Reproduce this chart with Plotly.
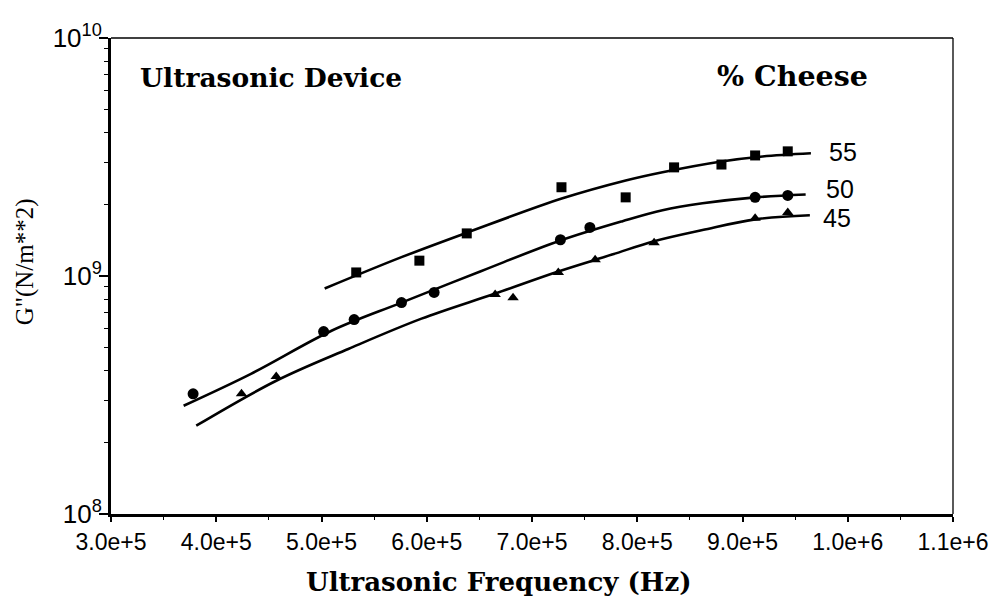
import math
import plotly.graph_objects as go

# ---- data ----
freq_55 = [5.33e5, 5.93e5, 6.38e5, 7.28e5, 7.89e5, 8.35e5, 8.80e5, 9.12e5, 9.43e5]
g_55 = [1.035e9, 1.16e9, 1.51e9, 2.36e9, 2.14e9, 2.86e9, 2.94e9, 3.21e9, 3.34e9]

freq_50 = [3.78e5, 5.02e5, 5.31e5, 5.76e5, 6.07e5, 7.27e5, 7.55e5, 9.12e5, 9.43e5]
g_50 = [3.20e8, 5.84e8, 6.56e8, 7.73e8, 8.53e8, 1.42e9, 1.60e9, 2.14e9, 2.18e9]

freq_45 = [4.24e5, 4.57e5, 6.65e5, 6.82e5, 7.25e5, 7.60e5, 8.16e5, 9.12e5, 9.43e5]
g_45 = [3.20e8, 3.78e8, 8.36e8, 8.11e8, 1.035e9, 1.17e9, 1.38e9, 1.75e9, 1.85e9]

# fitted curves
fit_f_55 = [5.03e5, 5.76e5, 6.38e5, 7.29e5, 7.89e5, 8.24e5, 8.80e5, 9.19e5, 9.65e5]
fit_g_55 = [8.86e8, 1.20e9, 1.52e9, 2.12e9, 2.52e9, 2.73e9, 3.03e9, 3.18e9, 3.28e9]

fit_f_50 = [3.69e5, 4.33e5, 5.10e5, 5.76e5, 6.52e5, 7.27e5, 7.86e5, 8.24e5, 8.62e5, 9.12e5, 9.60e5]
fit_g_50 = [2.85e8, 3.88e8, 5.90e8, 7.73e8, 1.05e9, 1.41e9, 1.70e9, 1.89e9, 2.02e9, 2.14e9, 2.20e9]

fit_f_45 = [3.81e5, 4.57e5, 5.26e5, 5.95e5, 6.65e5, 7.25e5, 7.76e5, 8.16e5, 8.62e5, 9.12e5, 9.64e5]
fit_g_45 = [2.35e8, 3.63e8, 4.95e8, 6.62e8, 8.44e8, 1.045e9, 1.23e9, 1.40e9, 1.56e9, 1.73e9, 1.80e9]

series_labels = ["55", "50", "45"]
label_f = [9.80e5, 9.77e5, 9.75e5]
label_g = [3.31e9, 2.33e9, 1.76e9]

x_tickvals = [3e5, 4e5, 5e5, 6e5, 7e5, 8e5, 9e5, 1.0e6, 1.1e6]
x_ticktext = ["3.0e+5", "4.0e+5", "5.0e+5", "6.0e+5", "7.0e+5", "8.0e+5", "9.0e+5", "1.0e+6", "1.1e+6"]
y_tickvals = [1e8, 1e9, 1e10]
y_exponents = ["8", "9", "10"]

SERIF = "DejaVu Serif"
TSERIF = "Liberation Serif"
SANS = "Liberation Sans"

fig = go.Figure()

for ff, gg in [(fit_f_55, fit_g_55), (fit_f_50, fit_g_50), (fit_f_45, fit_g_45)]:
    fig.add_trace(go.Scatter(x=ff, y=gg, mode="lines", line=dict(color="black", width=2.6, shape="spline"),
                             showlegend=False, hoverinfo="skip"))

fig.add_trace(go.Scatter(x=freq_55, y=g_55, mode="markers",
                         marker=dict(symbol="square", size=10, color="black"), showlegend=False))
fig.add_trace(go.Scatter(x=freq_50, y=g_50, mode="markers",
                         marker=dict(symbol="circle", size=11, color="black"), showlegend=False))
fig.add_trace(go.Scatter(x=freq_45, y=g_45, mode="markers",
                         marker=dict(symbol="triangle-up", size=10, color="black"), showlegend=False))

annotations = []
for lab, lf, lg in zip(series_labels, label_f, label_g):
    # annotations on a log axis take log10 positions
    annotations.append(dict(x=lf, y=math.log10(lg), xref="x", yref="y", text=lab, showarrow=False,
                            xanchor="left", yanchor="middle",
                            font=dict(family=SANS, size=25, color="black")))
annotations.append(dict(x=0.032, y=0.916, xref="paper", yref="paper", text="<b>Ultrasonic Device</b>",
                        showarrow=False, xanchor="left", yanchor="middle",
                        font=dict(family=SERIF, size=26.5, color="black")))
annotations.append(dict(x=0.809, y=0.92, xref="paper", yref="paper", text="<b>% Cheese</b>",
                        showarrow=False, xanchor="center", yanchor="middle",
                        font=dict(family=SERIF, size=28.5, color="black")))
annotations.append(dict(x=0.46, y=-0.143, xref="paper", yref="paper",
                        text="<b>Ultrasonic Frequency (Hz)</b>",
                        showarrow=False, xanchor="center", yanchor="middle",
                        font=dict(family=SERIF, size=26, color="black")))
annotations.append(dict(x=-0.102, y=0.529, xref="paper", yref="paper",
                        text='G"(N/m**2)', textangle=-90,
                        showarrow=False, xanchor="center", yanchor="middle",
                        font=dict(family=TSERIF, size=25, color="black")))

y_ticktext = ["10<sup>%s</sup>" % e for e in y_exponents]

fig.update_layout(
    width=989, height=600,
    margin=dict(l=111, r=36, t=38, b=86),
    paper_bgcolor="white", plot_bgcolor="white",
    annotations=annotations,
    shapes=[
        dict(type="line", xref="paper", yref="paper", x0=0, x1=1, y0=1, y1=1,
             line=dict(color="black", width=1.3)),
        dict(type="line", xref="paper", yref="paper", x0=1, x1=1, y0=0, y1=1,
             line=dict(color="black", width=1.3)),
    ],
    xaxis=dict(
        range=[3e5, 1.1e6], tickvals=x_tickvals, ticktext=x_ticktext,
        showgrid=False, zeroline=False, showline=True, linecolor="black", linewidth=3,
        ticks="outside", ticklen=5, tickcolor="black", tickwidth=1.5,
        minor=dict(dtick=5e4, ticks="outside", ticklen=3, tickcolor="black", tickwidth=1),
        tickfont=dict(family=SANS, size=23, color="black"),
        automargin=False,
    ),
    yaxis=dict(
        type="log", range=[8, 10], tickvals=y_tickvals, ticktext=y_ticktext,
        showgrid=False, zeroline=False, showline=True, linecolor="black", linewidth=3,
        ticks="outside", ticklen=9, tickcolor="black", tickwidth=1.5,
        minor=dict(ticks="outside", ticklen=4, tickcolor="black", tickwidth=1.2, dtick="D1", showgrid=False),
        tickfont=dict(family=SANS, size=26, color="black"),
        ticklabelstandoff=-8,
        automargin=False,
    ),
)

fig.write_html("out.html", config={"displayModeBar": False},
               post_script="document.body.style.margin='0px';document.body.style.overflow='hidden';")
